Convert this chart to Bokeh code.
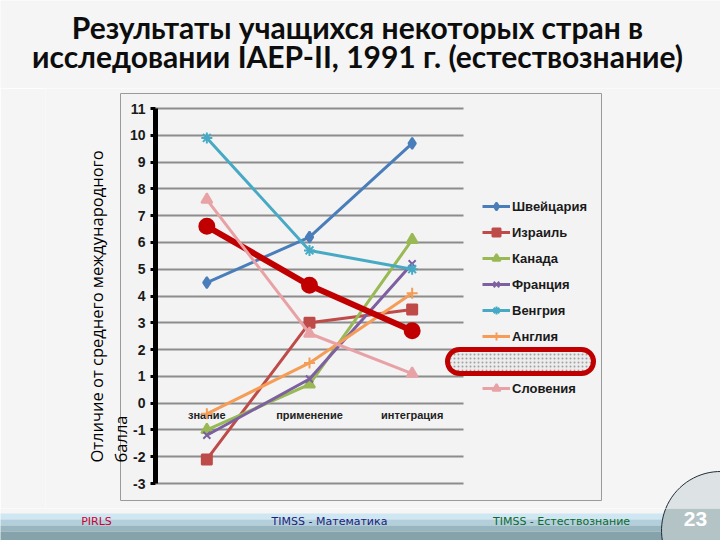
import numpy as np
from bokeh.plotting import figure
from bokeh.layouts import column
from bokeh.models import (Range1d, Label, BoxAnnotation, PolyAnnotation,
                          Legend, LegendItem, FixedTicker, CustomJSTickFormatter)
from bokeh.core.properties import value
from bokeh.embed import file_html
from bokeh.resources import INLINE

# ---------------- data ----------------
categories = ["знание", "применение", "интеграция"]
switzerland = [4.5, 6.2, 9.7]
israel = [-2.1, 3.0, 3.5]
canada = [-1.0, 0.7, 6.1]
france = [-1.2, 0.9, 5.2]
hungary = [9.9, 5.7, 5.0]
england = [-0.4, 1.5, 4.1]
russia = [6.6, 4.4, 2.7]
slovenia = [7.6, 2.6, 1.1]
series_names = ["Швейцария", "Израиль", "Канада", "Франция", "Венгрия", "Англия", "Россия", "Словения"]
series_values = [switzerland, israel, canada, france, hungary, england, russia, slovenia]
hidden_in_legend = "Россия"   # its legend entry is covered by a red oval in the original
y_ticks = list(range(-3, 12))

title_lines = ["Результаты учащихся некоторых стран в",
               "исследовании IAEP-II, 1991 г. (естествознание)"]
y_title_lines = ["Отличие от среднего международного", "балла"]
footer = ["PIRLS", "TIMSS - Математика", "TIMSS - Естествознание"]
page_number = "23"

# category positions on the x scale (band centres)
cat_x = [i + 0.5 for i in range(len(categories))]

# ---------------- styles ----------------
colors = ["#4A7EBB", "#BE4B48", "#98B954", "#7D60A0", "#46AAC5", "#F59D56", "#C00000", "#E8A2A6"]
markers = ["diamond", "square", "triangle", "x", "asterisk", "cross", "circle", "triangle"]
msizes = [11, 10, 11, 10, 11, 11, 15, 11]
lwidths = [3, 3, 3, 3, 3, 3, 6, 3]
SLIDE = "#f5f5f5"
BOX = "#f3f3f3"

W = 720
BASE_K = 0.42   # rendered alphabetic baseline sits ~0.42em below the anchor


def bare(fig):
    fig.outline_line_color = None
    fig.border_fill_color = SLIDE
    fig.background_fill_color = SLIDE
    fig.xgrid.visible = False
    fig.ygrid.visible = False
    return fig


def box(left, right, top, bottom, **kw):
    kw.setdefault("fill_alpha", 1)
    kw.setdefault("line_alpha", 1)
    return BoxAnnotation(left=left, right=right, top=top, bottom=bottom,
                         left_units="screen", right_units="screen",
                         top_units="screen", bottom_units="screen", **kw)


def blank_fig(h):
    return bare(figure(width=W, height=h, x_range=Range1d(0, 1), y_range=Range1d(0, 1),
                       output_backend="svg", toolbar_location=None,
                       x_axis_location=None, y_axis_location=None, frame_align=False,
                       min_border_left=0, min_border_right=0, min_border_top=0, min_border_bottom=0))


# ================= title figure (page y 0..88) =================
T1 = 88
tf = blank_fig(T1)
TFS = 30
for i, t in enumerate(title_lines):
    base = 39 + 29 * i
    tf.add_layout(Label(x=357, y=T1 - base + BASE_K * TFS, x_units="screen", y_units="screen", text=t,
                        text_align="center", text_baseline="alphabetic", text_font="Lato",
                        text_font_style="bold", text_font_size=f"{TFS}px", text_color="#0d0d0d"))

# ================= main chart (page y 88..508) =================
M0, M1 = 88, 508
ML = 45                     # page x of frame left (border holds the y axis)
PX_X = (463 - 155) / 3.0    # px per category band
PX_Y = (483 - 108) / 14.0   # px per y unit
x0 = -(155 - ML) / PX_X
x1 = 3 + (W - 463) / PX_X
y1 = 11 + (108 - M0) / PX_Y
y0 = -3 - (M1 - 483) / PX_Y

p = figure(width=W, height=M1 - M0, x_range=Range1d(x0, x1), y_range=Range1d(y0, y1),
           output_backend="svg", toolbar_location=None, x_axis_location=None, frame_align=False,
           min_border_left=ML, min_border_right=0, min_border_top=0, min_border_bottom=0)
p.outline_line_color = None
p.border_fill_color = SLIDE
p.background_fill_color = SLIDE


def sx(rx):
    return rx - ML


def sy(ry):
    return M1 - ry


# chart box
p.add_layout(box(sx(120), sx(601), sy(93), sy(500), fill_color=BOX,
                 line_color="#9a9a9a", line_width=1, level="image"))

p.xgrid.visible = False
p.ygrid.grid_line_color = "#8c8c8c"
p.ygrid.grid_line_width = 2
p.ygrid.bounds = (-3, 11)
p.ygrid.cross_bounds = (0, 3)

ax = p.yaxis[0]
ax.fixed_location = 0
ax.bounds = (-3, 11)
ax.ticker = FixedTicker(ticks=y_ticks)
ax.formatter = CustomJSTickFormatter(code="return String(tick);")
ax.axis_line_width = 5
ax.axis_line_color = "black"
ax.major_tick_out = 5
ax.major_tick_in = 0
ax.major_tick_line_width = 3
ax.minor_tick_line_color = None
ax.major_label_standoff = 5
ax.major_label_text_font = "Liberation Sans"
ax.major_label_text_font_style = "bold"
ax.major_label_text_font_size = "14px"
ax.major_label_text_color = "#1a1a1a"

# category labels at y = 0
p.text(x=cat_x, y=[0] * len(categories), text=categories, y_offset=6,
       text_align="center", text_baseline="top", text_font=value("Liberation Sans"),
       text_font_style="bold", text_font_size="11px", text_color="#222222")

items_top, items_bottom = [], []
seen_hidden = False
for name, vals, c, m, ms, lw in zip(series_names, series_values, colors, markers, msizes, lwidths):
    r1 = p.line(x=cat_x, y=vals, line_color=c, line_width=lw)
    r2 = p.scatter(x=cat_x, y=vals, marker=m, size=ms, fill_color=c, line_color=c, line_width=2)
    if name == hidden_in_legend:
        seen_hidden = True
        continue
    (items_bottom if seen_hidden else items_top).append(LegendItem(label=name, renderers=[r1, r2]))

leg_kw = dict(padding=0, margin=0, border_line_color=None, background_fill_alpha=0,
              glyph_width=28, glyph_height=20, label_height=20, spacing=6,
              label_standoff=2, label_text_font="Liberation Sans", label_text_font_style="bold",
              label_text_font_size="13px", label_text_color="#1a1a1a")
p.add_layout(Legend(items=items_top, location=(sx(482), sy(346)), **leg_kw))
p.add_layout(Legend(items=items_bottom, location=(sx(482), sy(398)), **leg_kw))

# red oval over the hidden legend entry
p.add_layout(box(sx(447), sx(593), sy(349), sy(373),
                 fill_color="#ececec", line_color="#C00000", line_width=5,
                 hatch_pattern="dot", hatch_color="#a0a0a0", hatch_scale=4,
                 border_radius=12, level="overlay"))

# y axis title
for xr, t in zip([96, 120], y_title_lines):
    p.add_layout(Label(x=sx(xr), y=sy(462), x_units="screen", y_units="screen", text=t,
                       angle=np.pi / 2, text_align="left", text_baseline="middle",
                       text_font="Open Sans", text_font_size="16.5px", text_color="#000000"))

# page-number disc (upper part)
theta = np.linspace(0, 2 * np.pi, 90)
disc_x = 720 + 59 * np.cos(theta)
disc_y = 530 + 59 * np.sin(theta)
p.add_layout(PolyAnnotation(xs=list(sx(disc_x)), ys=list(sy(disc_y)), xs_units="screen", ys_units="screen",
                            fill_color="#dde3e4", fill_alpha=1, line_color="#1f2d3a", line_alpha=1,
                            line_width=1, level="overlay"))

# ================= footer (page y 508..540) =================
F0, F1 = 508, 540
ff = blank_fig(F1 - F0)


def fy(ry):
    return F1 - ry


for top, bot, col in [(513, 519, "#cfe6f3"), (519, 525, "#b3cfdc"), (525, 531, "#98b6c0"), (531, 541, "#86a3ac")]:
    ff.add_layout(box(-5, W + 5, fy(top), fy(bot), fill_color=col, line_color=None))
ff.add_layout(PolyAnnotation(xs=list(disc_x), ys=list(fy(disc_y)), xs_units="screen", ys_units="screen",
                             fill_color="#b4c3c6", fill_alpha=1, line_color="#1f2d3a", line_alpha=1,
                             line_width=1))

FFS = 11
for xr, t, c in zip([96, 329, 561], footer, ["#cc0033", "#1a237e", "#0b6b2e"]):
    ff.add_layout(Label(x=xr, y=fy(526) + BASE_K * FFS, x_units="screen", y_units="screen", text=t,
                        text_align="center", text_baseline="alphabetic", text_font="DejaVu Sans",
                        text_font_size=f"{FFS}px", text_color=c))
NFS = 21
ff.add_layout(Label(x=695, y=fy(527) + BASE_K * NFS, x_units="screen", y_units="screen", text=page_number,
                    text_align="center", text_baseline="alphabetic", text_font="Liberation Sans",
                    text_font_style="bold", text_font_size=f"{NFS}px", text_color="white"))

layout = column(tf, p, ff, spacing=0)
open("out.html", "w").write(file_html(layout, INLINE))
